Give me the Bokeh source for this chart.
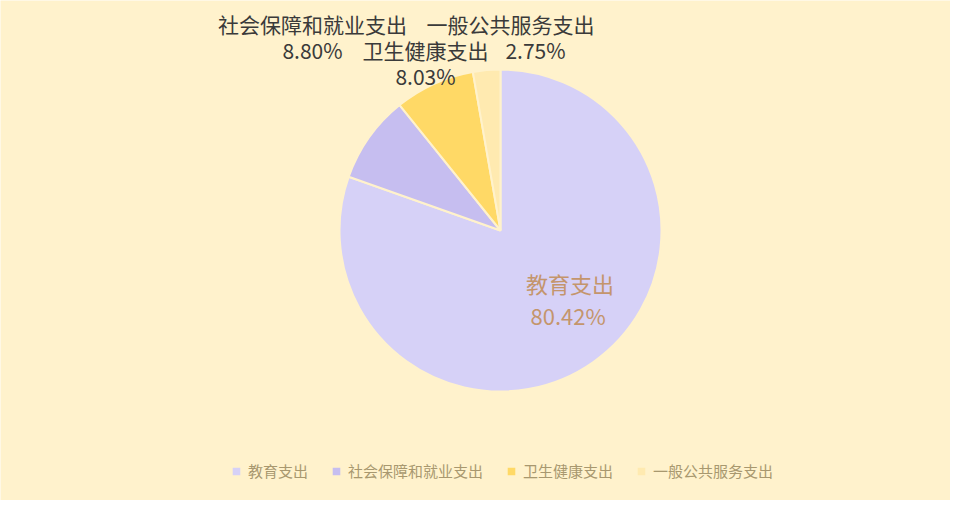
import math
from bokeh.plotting import figure
from bokeh.models import Range1d, Legend, LegendItem, ColumnDataSource
from bokeh.core.properties import value
from bokeh.embed import file_html
from bokeh.resources import INLINE

# ---- data ----
categories = ["教育支出", "社会保障和就业支出", "卫生健康支出", "一般公共服务支出"]
shares = [80.42, 8.80, 8.03, 2.75]

# ---- style / layout ----
colors = ["#D6D1F7", "#C6BEF0", "#FFD966", "#FFEAB0"]
BG = "#FFF2CC"
FONT = "Noto Sans CJK SC"
W, H = 950, 500
CX, CY, R = 500, 270, 161          # pie centre / radius in canvas units


def scr(sx, sy):
    """canvas-pixel position (from top-left) -> data coordinates"""
    return sx, H - sy


# outside label anchors (canvas pixels): name line, percent line
outside_pos = {
    1: [(312, 23), (312, 49)],
    2: [(425, 49), (425, 75)],
    3: [(510, 23), (535, 49)],
}

p = figure(width=W, height=H, x_range=Range1d(0, W), y_range=Range1d(0, H),
           x_axis_type=None, y_axis_type=None,
           output_backend="svg", toolbar_location=None, min_border=0,
           background_fill_color=BG, border_fill_color=BG,
           outline_line_color=None)
p.grid.visible = False

total = sum(shares)
starts, ends = [], []
cum = 0.0
for s in shares:
    starts.append(math.pi / 2 - 2 * math.pi * cum / total)
    cum += s
    ends.append(math.pi / 2 - 2 * math.pi * cum / total)

src = ColumnDataSource(dict(start=starts, end=ends, color=colors, name=categories))
wr = p.wedge(x=CX, y=CY, radius=R, start_angle="start", end_angle="end",
             direction="clock", fill_color="color", line_color=BG, line_width=2,
             source=src)

# inside label for the big slice
mid0 = (starts[0] + ends[0]) / 2
lx = CX + 0.62 * R * math.cos(mid0) + 12
ly = CY + 0.62 * R * math.sin(mid0)
p.text(x=[lx, lx - 2], y=[ly + 29, ly - 3],
       text=[categories[0], f"{shares[0]:.2f}%"],
       text_font=value(FONT), text_font_size="22px",
       text_align="center", text_baseline="middle", text_color="#C4956C")

# outside labels for the small slices
xs, ys, ts = [], [], []
for i, (pn, pp) in outside_pos.items():
    x1, y1 = scr(*pn)
    x2, y2 = scr(*pp)
    xs += [x1, x2]
    ys += [y1, y2]
    ts += [categories[i], f"{shares[i]:.2f}%"]
p.text(x=xs, y=ys, text=ts, text_font=value(FONT), text_font_size="21px",
       text_align="center", text_baseline="middle", text_color="#3A3A3A")

items = [LegendItem(label=n, renderers=[wr], index=i) for i, n in enumerate(categories)]
legend = Legend(items=items, orientation="horizontal", location=(230, 19),
                label_text_font=FONT, label_text_font_size="15px",
                label_text_color="#A8986F", glyph_width=12, glyph_height=12,
                label_standoff=6, spacing=22, padding=0, margin=0,
                background_fill_alpha=0, border_line_color=None)
p.add_layout(legend)

open("out.html", "w").write(file_html(p, INLINE))
